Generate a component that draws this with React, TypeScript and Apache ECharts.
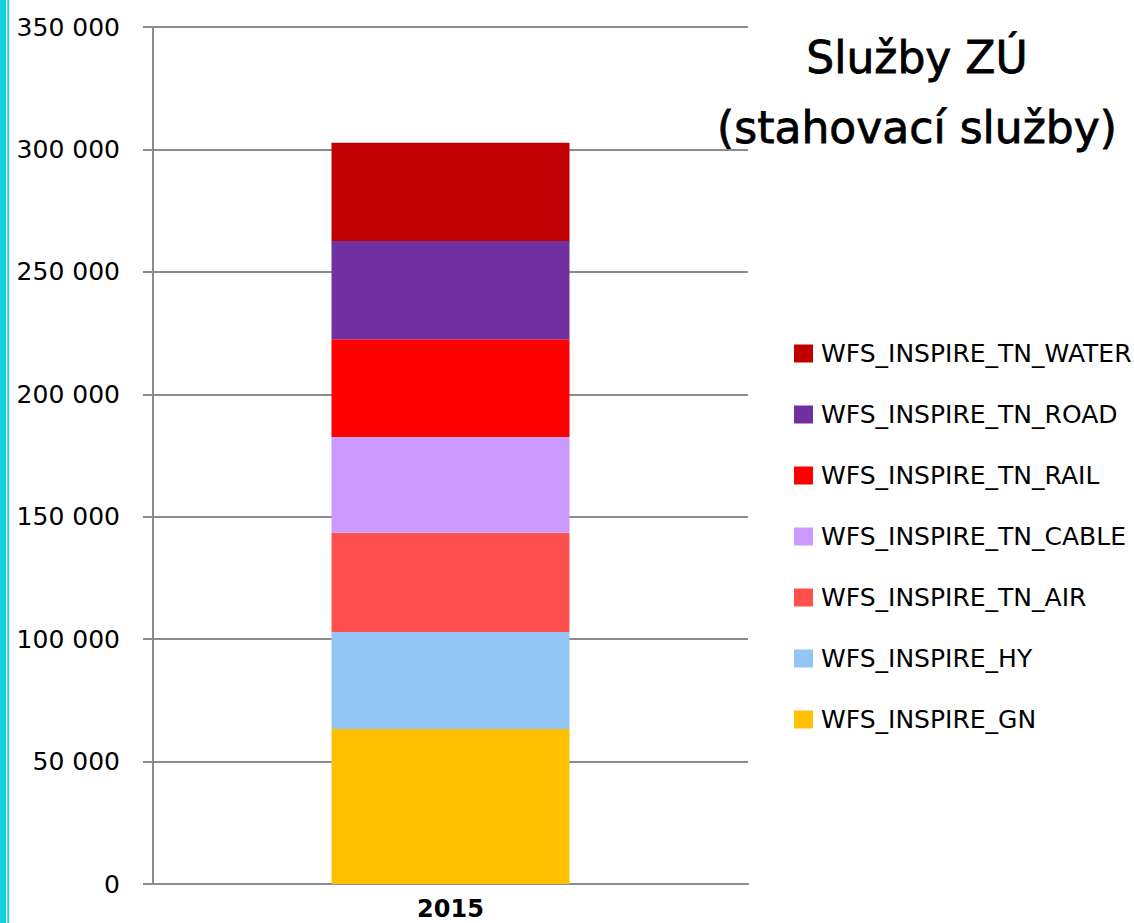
import React, { useEffect, useRef } from "react";
import * as echarts from "echarts";

const categories = ["2015"];
const seriesNames = [
  "WFS_INSPIRE_GN",
  "WFS_INSPIRE_HY",
  "WFS_INSPIRE_TN_AIR",
  "WFS_INSPIRE_TN_CABLE",
  "WFS_INSPIRE_TN_RAIL",
  "WFS_INSPIRE_TN_ROAD",
  "WFS_INSPIRE_TN_WATER",
];
const seriesValues = [
  [63300],
  [39600],
  [40550],
  [39100],
  [39900],
  [40150],
  [40100],
];
const seriesColors = ["#FFC000", "#93C5F5", "#FF5050", "#CC99FF", "#FF0000", "#7030A0", "#C00000"];
const titleLines = ["Služby ZÚ", "(stahovací služby)"];

export default function App() {
  const ref = useRef<HTMLDivElement>(null);
  useEffect(() => {
    if (!ref.current) return;
    const chart = echarts.init(ref.current, null, { renderer: "svg" });
    const font = "DejaVu Sans";
    chart.setOption({
      animation: false,
      textStyle: { fontFamily: font },
      grid: { left: 153, right: 386, top: 27, bottom: 39, containLabel: false },
      legend: {
        data: [...seriesNames].reverse(),
        orient: "vertical",
        left: 794,
        top: 341,
        padding: 0,
        itemWidth: 19,
        itemHeight: 18,
        itemGap: 36,
        icon: "rect",
        textStyle: { fontFamily: font, fontSize: 25, color: "#000", padding: [0, 0, 0, 3] },
        selectedMode: false,
      },
      xAxis: {
        type: "category",
        data: categories,
        axisLine: { show: true, lineStyle: { color: "#8c8c8c", width: 2 } },
        axisTick: { show: false },
        axisLabel: { fontFamily: font, fontSize: 24, fontWeight: "bold", color: "#000", margin: 13 },
      },
      yAxis: {
        type: "value",
        min: 0,
        max: 350000,
        interval: 50000,
        axisLine: { show: true, lineStyle: { color: "#8c8c8c", width: 2 } },
        axisTick: { show: true, inside: false, length: 10, lineStyle: { color: "#8c8c8c", width: 2 } },
        splitLine: { show: true, lineStyle: { color: "#8c8c8c", width: 2 } },
        axisLabel: {
          fontFamily: font,
          fontSize: 25,
          color: "#000",
          margin: 33,
          formatter: (v: number) => v.toLocaleString("en-US").replace(/,/g, " "),
        },
      },
      series: seriesNames.map((name, i) => ({
        name,
        type: "bar",
        stack: "total",
        data: seriesValues[i],
        barWidth: "40%",
        itemStyle: { color: seriesColors[i] },
      })),
      graphic: [
        { type: "rect", shape: { x: 0, y: 0, width: 6, height: 923 }, style: { fill: "#14CFDC" } },
        { type: "rect", shape: { x: 7.3, y: 0, width: 1.8, height: 923 }, style: { fill: "#14CFDC" } },
        {
          type: "text",
          x: 917,
          y: 57,
          style: {
            text: titleLines[0],
            fontFamily: font,
            fontSize: 44,
            fill: "#000",
            stroke: "#000",
            lineWidth: 0.8,
            textAlign: "center",
            textVerticalAlign: "middle",
          },
        },
        {
          type: "text",
          x: 917,
          y: 127,
          style: {
            text: titleLines[1],
            fontFamily: font,
            fontSize: 44,
            fill: "#000",
            stroke: "#000",
            lineWidth: 0.8,
            textAlign: "center",
            textVerticalAlign: "middle",
          },
        },
      ],
    });
    return () => chart.dispose();
  }, []);
  return (
    <div
      ref={ref}
      style={{ position: "absolute", left: 0, top: 0, width: 1134, height: 923, background: "#fff" }}
    />
  );
}
